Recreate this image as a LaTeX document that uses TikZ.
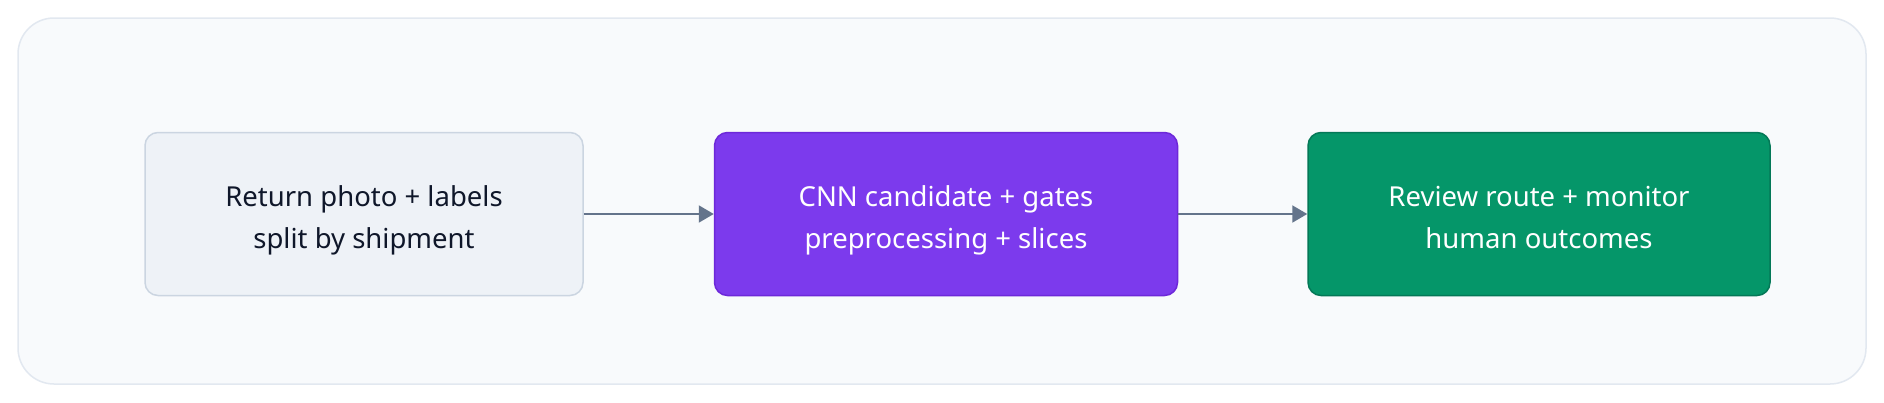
\documentclass[tikz,border=0pt]{standalone}
\usepackage{fontspec}
\setmainfont{Noto Sans}
\usetikzlibrary{arrows.meta}
\definecolor{bgpanel}{HTML}{F8FAFC}
\definecolor{panelborder}{HTML}{E2E8F0}
\definecolor{grayfill}{HTML}{EEF2F7}
\definecolor{grayborder}{HTML}{CBD5E1}
\definecolor{darktext}{HTML}{0F172A}
\definecolor{purplefill}{HTML}{7C3AED}
\definecolor{purpleborder}{HTML}{6D28D9}
\definecolor{greenfill}{HTML}{059669}
\definecolor{greenborder}{HTML}{047857}
\definecolor{arrowcol}{HTML}{64748B}
\newcommand{\twolines}[2]{\raisebox{-5pt}[\height][\depth]{\begin{tabular}{@{}c@{}}#1\\#2\end{tabular}}}
\tikzset{
  box/.style={rounded corners=13pt, line width=1.5pt, minimum width=463pt, minimum height=163pt,
    align=center, font=\fontsize{27.5}{42}\selectfont, inner sep=0pt},
  graybox/.style={box, fill=grayfill, draw=grayborder, text=darktext},
  purplebox/.style={box, fill=purplefill, draw=purpleborder, text=white},
  greenbox/.style={box, fill=greenfill, draw=greenborder, text=white},
  flow/.style={draw=arrowcol, line width=2pt, -{Triangle[length=15pt,width=17pt]}}
}
\begin{document}
\begin{tikzpicture}[x=1pt,y=-1pt]
\useasboundingbox (0,0) rectangle (1884,402);
\fill[white] (0,0) rectangle (1884,402);
\node[draw=panelborder, fill=bgpanel, line width=1.5pt, rounded corners=36pt,
  minimum width=1848pt, minimum height=366pt, inner sep=0pt]
  (panel) at (942,201) {};
\node[graybox, minimum width=438pt] (n1) at (364,214) {\twolines{Return photo + labels}{split by shipment}};
\node[purplebox] (n2) at (946,214) {\twolines{CNN candidate + gates}{preprocessing + slices}};
\node[greenbox, minimum width=462pt] (n3) at (1539,214) {\twolines{Review route + monitor}{human outcomes}};
\draw[flow] (n1) -- (n2);
\draw[flow] (n2) -- (n3);
\end{tikzpicture}
\end{document}
